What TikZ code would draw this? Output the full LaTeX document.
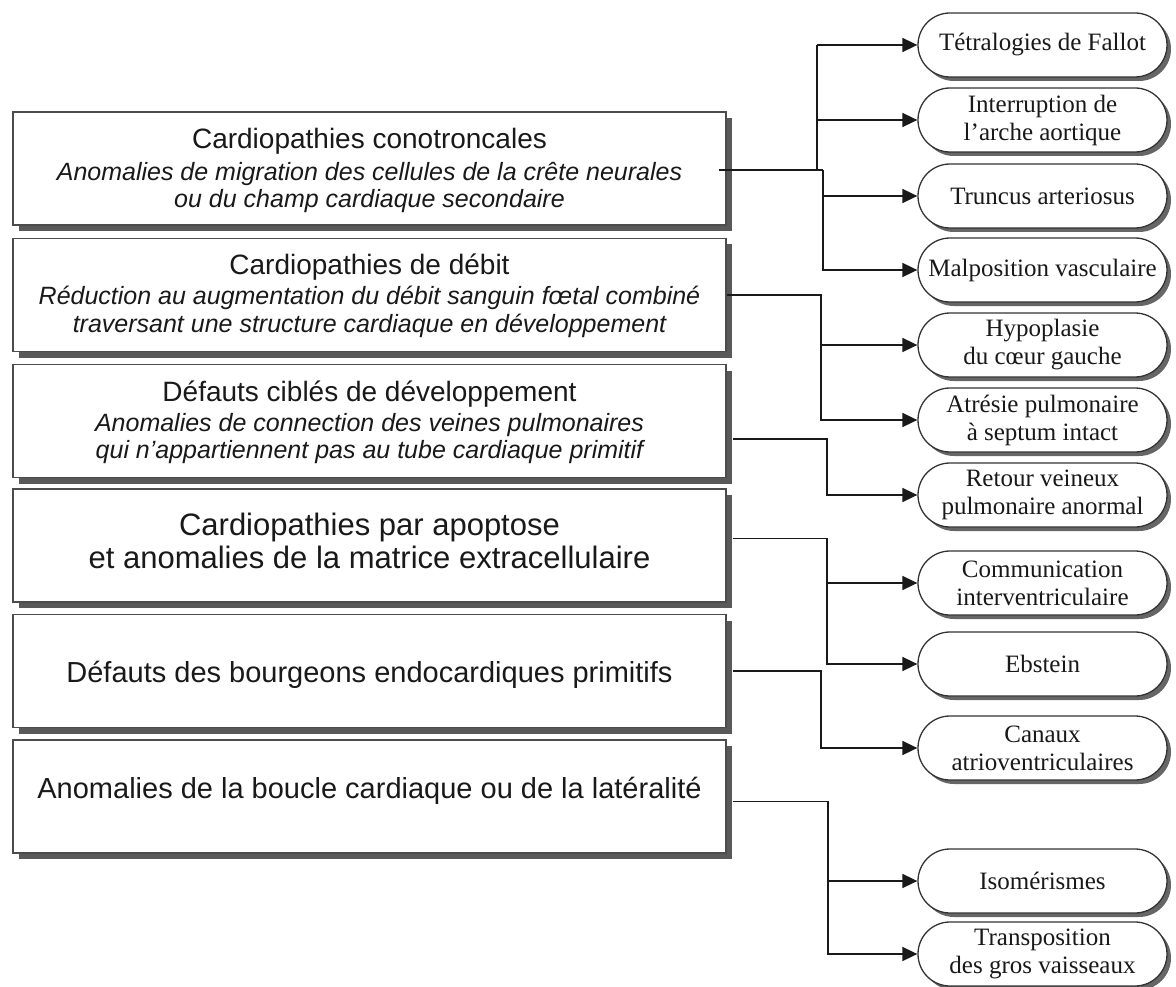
\documentclass[tikz,border=0pt]{standalone}
\usepackage{fontspec}
\setmainfont{Liberation Serif}
\newfontfamily\arialf{Liberation Sans}
\usetikzlibrary{arrows.meta,shadows,calc}
\begin{document}
\begin{tikzpicture}[x=1pt,y=-1pt,
 catbox/.style={draw=black!70,line width=1.4pt,fill=white,minimum width=713pt,minimum height=113pt,inner sep=0pt,
   drop shadow={shadow xshift=6pt,shadow yshift=-6pt,fill=black!65,opacity=1}},
 ttl/.style={anchor=base,font=\arialf\fontsize{28}{32}\selectfont,text=black!90,inner sep=0pt},
 ttlb/.style={ttl,font=\arialf\fontsize{29}{32}\selectfont},
 ttlc/.style={ttl,font=\arialf\fontsize{31}{33}\selectfont},
 sub/.style={anchor=base,font=\arialf\itshape\fontsize{25}{28}\selectfont,text=black!90,inner sep=0pt},
 oval/.style={draw=black!80,line width=1.3pt,fill=white,rounded corners=32pt,minimum width=249pt,minimum height=64pt,inner sep=0pt,align=center,font=\fontsize{25}{28}\selectfont,text=black!90,
   drop shadow={shadow xshift=4pt,shadow yshift=-4pt,fill=black!60,opacity=1}},
 conn/.style={draw=black!90,line width=1.7pt},
 arr/.style={conn,-{Triangle[length=15pt,width=14pt]}},
]
\useasboundingbox (0,0) rectangle (1176,987);

% category boxes
\node[catbox] (b1) at (369.5,168.5) {};
\node[catbox] (b2) at (369.5,295) {};
\node[catbox] (b3) at (369.5,421) {};
\node[catbox] (b4) at (369.5,545.5) {};
\node[catbox] (b5) at (369.5,671) {};
\node[catbox] (b6) at (369.5,796.5) {};

\node[ttl] (b1t) at (369.5,149) {Cardiopathies conotroncales};
\node[sub] (b1s) at (369.5,181) {Anomalies de migration des cellules de la crête neurales};
\node[sub] (b1u) at (369.5,208) {ou du champ cardiaque secondaire};

\node[ttl] (b2t) at (369.5,275) {Cardiopathies de débit};
\node[sub] (b2s) at (369.5,305) {Réduction au augmentation du débit sanguin fœtal combiné};
\node[sub] (b2u) at (369.5,332) {traversant une structure cardiaque en développement};

\node[ttl] (b3t) at (369.5,401) {Défauts ciblés de développement};
\node[sub] (b3s) at (369.5,431) {Anomalies de connection des veines pulmonaires};
\node[sub] (b3u) at (369.5,458) {qui n’appartiennent pas au tube cardiaque primitif};

\node[ttlc] (b4t) at (369.5,535) {Cardiopathies par apoptose};
\node[ttlc] (b4u) at (369.5,568) {et anomalies de la matrice extracellulaire};

\node[ttlb] (b5t) at (369.5,682) {Défauts des bourgeons endocardiques primitifs};

\node[ttlb] (b6t) at (369.5,798) {Anomalies de la boucle cardiaque ou de la latéralité};

% outcome ovals
\node[oval] (o1) at (1042.5,45) {Tétralogies de Fallot};
\node[oval] (o2) at (1042.5,120) {Interruption de\\l’arche aortique};
\node[oval] (o3) at (1042.5,196) {Truncus arteriosus};
\node[oval] (o4) at (1042.5,270) {Malposition vasculaire};
\node[oval] (o5) at (1042.5,345) {Hypoplasie\\du cœur gauche};
\node[oval] (o6) at (1042.5,420) {Atrésie pulmonaire\\à septum intact};
\node[oval] (o7) at (1042.5,495) {Retour veineux\\pulmonaire anormal};
\node[oval] (o8) at (1042.5,583) {Communication\\interventriculaire};
\node[oval] (o9) at (1042.5,664) {Ebstein};
\node[oval] (o10) at (1042.5,748) {Canaux\\atrioventriculaires};
\node[oval] (o11) at (1042.5,881) {Isomérismes};
\node[oval] (o12) at (1042.5,954) {Transposition\\des gros vaisseaux};

% trunk x positions
\coordinate (x1a) at (817,0);
\coordinate (x1b) at (823,0);
\coordinate (x2) at (821,0);
\coordinate (x3) at (827,0);
\coordinate (x4) at (827,0);
\coordinate (x5) at (821,0);
\coordinate (x6) at (828,0);

% box 1
\coordinate (p1) at ($(b1.east)+(-8,1.5)$);
\draw[conn] (p1) -- (p1 -| x1b);
\draw[conn] (o1.west -| x1a) -- (p1 -| x1a);
\draw[arr] (p1 -| x1b) |- (o4.west);
\draw[arr] (o1.west -| x1a) -- (o1.west);
\draw[arr] (o2.west -| x1a) -- (o2.west);
\draw[arr] (o3.west -| x1b) -- (o3.west);

% box 2
\draw[arr] (b2.east) -- (b2.east -| x2) |- (o6.west);
\draw[arr] (o5.west -| x2) -- (o5.west);

% box 3
\coordinate (p3) at ($(b3.east)+(6,18)$);
\draw[arr] (p3) -- (p3 -| x3) |- (o7.west);

% box 4
\coordinate (p4) at ($(b4.east)+(6,-7)$);
\draw[arr] (p4) -- (p4 -| x4) |- (o9.west);
\draw[arr] (o8.west -| x4) -- (o8.west);

% box 5
\coordinate (p5) at ($(b5.east)+(6,0)$);
\draw[arr] (p5) -- (p5 -| x5) |- (o10.west);

% box 6
\coordinate (p6) at ($(b6.east)+(6,5)$);
\draw[arr] (p6) -- (p6 -| x6) |- (o12.west);
\draw[arr] (o11.west -| x6) -- (o11.west);
\end{tikzpicture}
\end{document}
